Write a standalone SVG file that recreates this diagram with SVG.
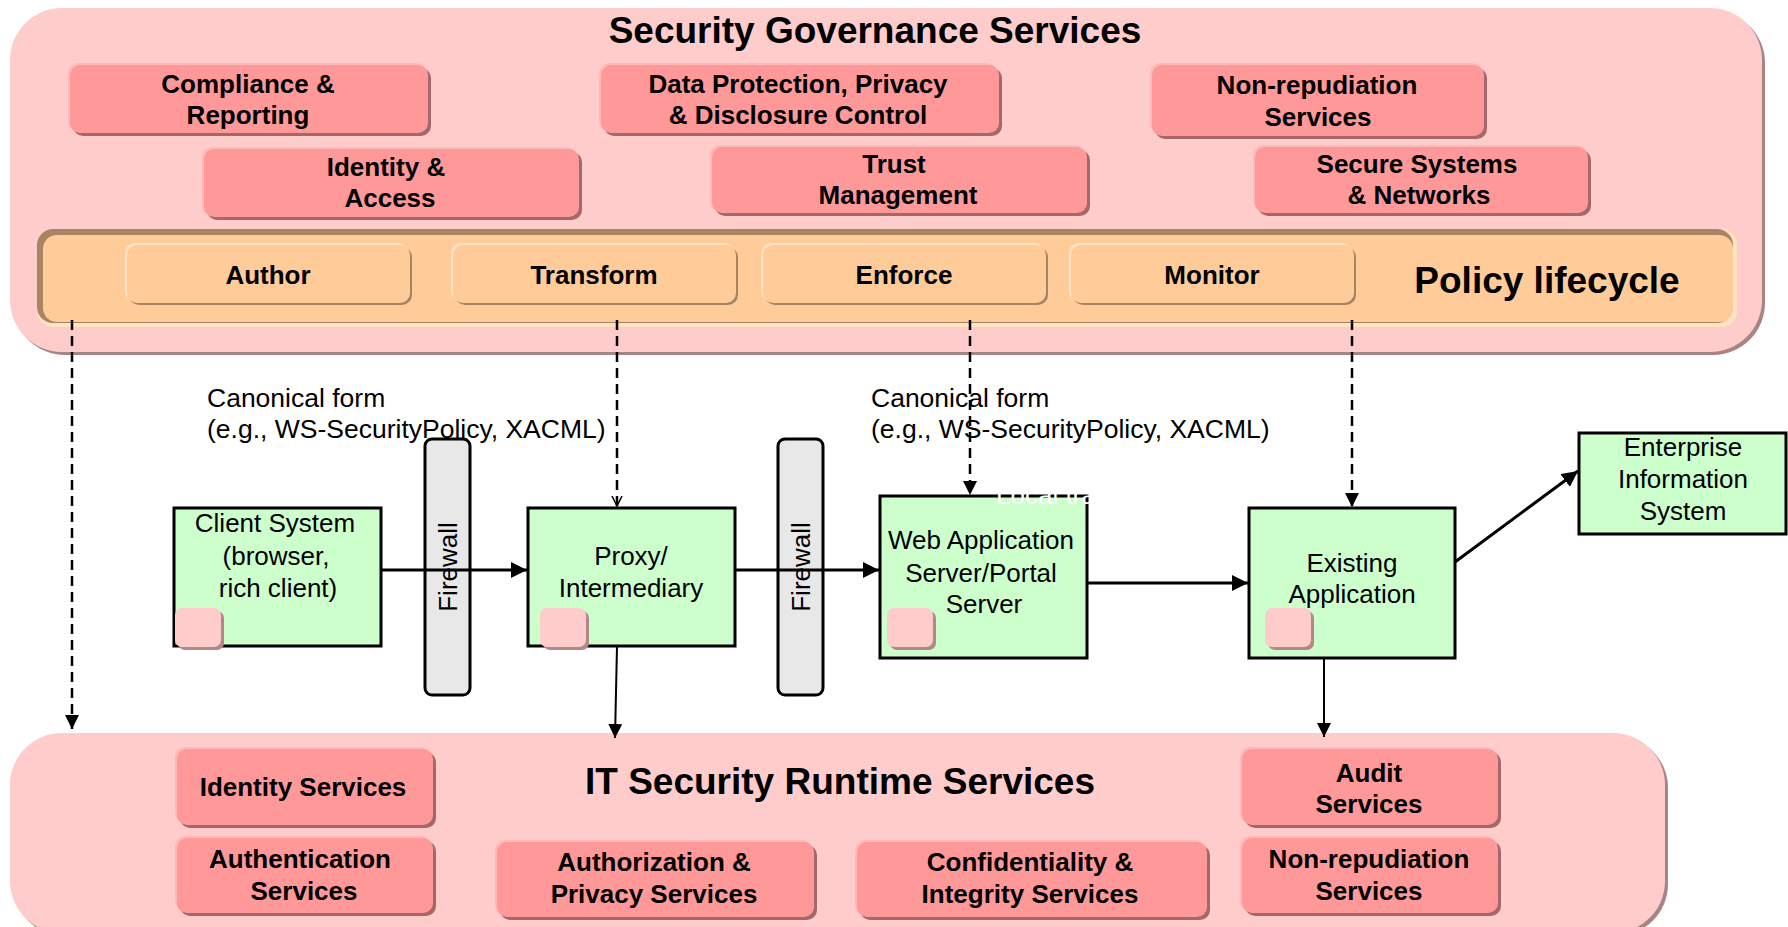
<svg xmlns="http://www.w3.org/2000/svg" width="1788" height="927" viewBox="0 0 1788 927">
<style>
text{font-family:"Liberation Sans",Arial,sans-serif;fill:#000}
.b{font-weight:bold;font-size:26px;text-anchor:middle}
.r{font-size:26px;text-anchor:middle}
.l{font-size:26.5px}
.t{font-weight:bold;font-size:37px;text-anchor:middle}
.outer{fill:#FFCCCC}
.outsh{fill:#A68585}
.svc{fill:#FF9999}
.svcsh{fill:#A46868}
.svchi{fill:#FFB8B8}
.lc{fill:#FFCC99}
.lcsh{fill:#A88462}
.lchi{fill:#FFE2C4}
.green{fill:#CCFFCC;stroke:#000;stroke-width:3}
.fw{fill:#E8E8E8;stroke:#000;stroke-width:3}
.sq{fill:#FFCCCC}
.sqsh{fill:#B08888}
.dash{fill:none;stroke:#000;stroke-width:2.5;stroke-dasharray:10 6}
.solid{fill:none;stroke:#000;stroke-width:3}
.thin{fill:none;stroke:#000;stroke-width:2}
</style>
<defs>
<marker id="ah" markerUnits="userSpaceOnUse" markerWidth="18" markerHeight="16" refX="16" refY="8" orient="auto"><path d="M0,0 L16,8 L0,16 Z" fill="#000"/></marker>
<marker id="ahs" markerUnits="userSpaceOnUse" markerWidth="16" markerHeight="14" refX="14" refY="7" orient="auto"><path d="M0,0 L14,7 L0,14 Z" fill="#000"/></marker>
<marker id="aho" markerUnits="userSpaceOnUse" markerWidth="12" markerHeight="12" refX="10" refY="6" orient="auto"><path d="M0,1 L10,6 L0,11" fill="none" stroke="#000" stroke-width="1.5"/></marker>
</defs>

<g id="security-governance">
<rect class="outsh" x="13" y="11" width="1752" height="344" rx="52"/>
<rect class="outer" x="10" y="8" width="1752" height="344" rx="52"/>
<text class="t" x="875" y="43">Security Governance Services</text>
</g>

<g id="compliance">
<rect class="svchi" x="68" y="63" width="358" height="68" rx="10"/>
<rect class="svcsh" x="73" y="68" width="358" height="68" rx="10"/>
<rect class="svc" x="70" y="65" width="358" height="68" rx="10"/>
<text class="b" x="248" y="93">Compliance &amp;</text>
<text class="b" x="248" y="124">Reporting</text>
</g>
<g id="data-protection">
<rect class="svchi" x="599" y="63" width="398" height="68" rx="10"/>
<rect class="svcsh" x="604" y="68" width="398" height="68" rx="10"/>
<rect class="svc" x="601" y="65" width="398" height="68" rx="10"/>
<text class="b" x="798" y="93">Data Protection, Privacy</text>
<text class="b" x="798" y="124">&amp; Disclosure Control</text>
</g>
<g id="non-repudiation-gov">
<rect class="svchi" x="1150" y="63" width="332" height="71" rx="10"/>
<rect class="svcsh" x="1155" y="68" width="332" height="71" rx="10"/>
<rect class="svc" x="1152" y="65" width="332" height="71" rx="10"/>
<text class="b" x="1317" y="94">Non-repudiation</text>
<text class="b" x="1318" y="126">Services</text>
</g>
<g id="identity-access">
<rect class="svchi" x="202" y="147" width="375" height="68" rx="10"/>
<rect class="svcsh" x="207" y="152" width="375" height="68" rx="10"/>
<rect class="svc" x="204" y="149" width="375" height="68" rx="10"/>
<text class="b" x="386" y="176">Identity &amp;</text>
<text class="b" x="390" y="207">Access</text>
</g>
<g id="trust">
<rect class="svchi" x="710" y="145" width="375" height="66" rx="10"/>
<rect class="svcsh" x="715" y="150" width="375" height="66" rx="10"/>
<rect class="svc" x="712" y="147" width="375" height="66" rx="10"/>
<text class="b" x="894" y="173">Trust</text>
<text class="b" x="898" y="204">Management</text>
</g>
<g id="secure-systems">
<rect class="svchi" x="1253" y="145" width="333" height="66" rx="10"/>
<rect class="svcsh" x="1258" y="150" width="333" height="66" rx="10"/>
<rect class="svc" x="1255" y="147" width="333" height="66" rx="10"/>
<text class="b" x="1417" y="173">Secure Systems</text>
<text class="b" x="1419" y="204">&amp; Networks</text>
</g>

<g id="policy-lifecycle">
<rect class="lchi" x="37" y="229" width="1700" height="98" rx="16"/>
<rect class="lcsh" x="37" y="229" width="1696" height="94" rx="16"/>
<rect class="lc" x="43" y="235" width="1690" height="87" rx="14"/>
<text class="t" x="1547" y="293">Policy lifecycle</text>
</g>
<g id="author">
<rect class="lchi" x="125" y="243" width="283" height="58" rx="10"/>
<rect class="lcsh" x="129" y="247" width="283" height="58" rx="10"/>
<rect class="lc" x="127" y="245" width="283" height="58" rx="10"/>
<text class="b" x="268" y="284">Author</text>
</g>
<g id="transform">
<rect class="lchi" x="451" y="243" width="283" height="58" rx="10"/>
<rect class="lcsh" x="455" y="247" width="283" height="58" rx="10"/>
<rect class="lc" x="453" y="245" width="283" height="58" rx="10"/>
<text class="b" x="594" y="284">Transform</text>
</g>
<g id="enforce">
<rect class="lchi" x="761" y="243" width="283" height="58" rx="10"/>
<rect class="lcsh" x="765" y="247" width="283" height="58" rx="10"/>
<rect class="lc" x="763" y="245" width="283" height="58" rx="10"/>
<text class="b" x="904" y="284">Enforce</text>
</g>
<g id="monitor">
<rect class="lchi" x="1069" y="243" width="283" height="58" rx="10"/>
<rect class="lcsh" x="1073" y="247" width="283" height="58" rx="10"/>
<rect class="lc" x="1071" y="245" width="283" height="58" rx="10"/>
<text class="b" x="1212" y="284">Monitor</text>
</g>

<g id="runtime-services">
<rect class="outsh" x="13" y="736" width="1655" height="200" rx="52"/>
<rect class="outer" x="10" y="733" width="1655" height="200" rx="52"/>
<text class="t" x="840" y="794">IT Security Runtime Services</text>
</g>
<g id="identity-services">
<rect class="svchi" x="175" y="747" width="256" height="76" rx="10"/>
<rect class="svcsh" x="180" y="752" width="256" height="76" rx="10"/>
<rect class="svc" x="177" y="749" width="256" height="76" rx="10"/>
<text class="b" x="303" y="796">Identity Services</text>
</g>
<g id="authentication-services">
<rect class="svchi" x="175" y="836" width="256" height="75" rx="10"/>
<rect class="svcsh" x="180" y="841" width="256" height="75" rx="10"/>
<rect class="svc" x="177" y="838" width="256" height="75" rx="10"/>
<text class="b" x="300" y="868">Authentication</text>
<text class="b" x="304" y="900">Services</text>
</g>
<g id="authorization-services">
<rect class="svchi" x="495" y="840" width="317" height="75" rx="10"/>
<rect class="svcsh" x="500" y="845" width="317" height="75" rx="10"/>
<rect class="svc" x="497" y="842" width="317" height="75" rx="10"/>
<text class="b" x="654" y="871">Authorization &amp;</text>
<text class="b" x="654" y="903">Privacy Services</text>
</g>
<g id="confidentiality-services">
<rect class="svchi" x="855" y="840" width="350" height="75" rx="10"/>
<rect class="svcsh" x="860" y="845" width="350" height="75" rx="10"/>
<rect class="svc" x="857" y="842" width="350" height="75" rx="10"/>
<text class="b" x="1030" y="871">Confidentiality &amp;</text>
<text class="b" x="1030" y="903">Integrity Services</text>
</g>
<g id="audit-services">
<rect class="svchi" x="1240" y="747" width="256" height="76" rx="10"/>
<rect class="svcsh" x="1245" y="752" width="256" height="76" rx="10"/>
<rect class="svc" x="1242" y="749" width="256" height="76" rx="10"/>
<text class="b" x="1369" y="782">Audit</text>
<text class="b" x="1369" y="813">Services</text>
</g>
<g id="non-repudiation-runtime">
<rect class="svchi" x="1240" y="836" width="256" height="75" rx="10"/>
<rect class="svcsh" x="1245" y="841" width="256" height="75" rx="10"/>
<rect class="svc" x="1242" y="838" width="256" height="75" rx="10"/>
<text class="b" x="1369" y="868">Non-repudiation</text>
<text class="b" x="1369" y="900">Services</text>
</g>

<g id="labels">
<text class="l" x="207" y="407">Canonical form</text>
<text class="l" x="207" y="438">(e.g., WS-SecurityPolicy, XACML)</text>
<text class="l" x="871" y="407">Canonical form</text>
<text class="l" x="871" y="438">(e.g., WS-SecurityPolicy, XACML)</text>
</g>

<g id="firewall-1">
<rect class="fw" x="425" y="439" width="45" height="256" rx="7"/>
<text class="r" transform="translate(457,567) rotate(-90)">Firewall</text>
</g>
<g id="firewall-2">
<rect class="fw" x="778" y="439" width="45" height="256" rx="7"/>
<text class="r" transform="translate(810,567) rotate(-90)">Firewall</text>
</g>

<g id="client-system">
<rect class="green" x="174" y="508" width="207" height="138"/>
<text class="r" x="275" y="532">Client System</text>
<text class="r" x="276" y="565">(browser,</text>
<text class="r" x="278" y="597">rich client)</text>
<rect class="sqsh" x="178" y="611" width="46" height="39" rx="7"/>
<rect class="sq" x="175" y="608" width="46" height="39" rx="7"/>
</g>
<g id="proxy">
<rect class="green" x="528" y="508" width="207" height="138"/>
<text class="r" x="631" y="565">Proxy/</text>
<text class="r" x="631" y="597">Intermediary</text>
<rect class="sqsh" x="543" y="611" width="46" height="39" rx="7"/>
<rect class="sq" x="540" y="608" width="46" height="39" rx="7"/>
</g>
<g id="web-app-server">
<rect class="green" x="880" y="496" width="207" height="162"/>
<text x="996" y="504" style="font-size:26px;fill:#fff">Local tra</text>
<text class="r" x="981" y="549">Web Application</text>
<text class="r" x="981" y="582">Server/Portal</text>
<text class="r" x="984" y="613">Server</text>
<rect class="sqsh" x="890" y="611" width="46" height="39" rx="7"/>
<rect class="sq" x="887" y="608" width="46" height="39" rx="7"/>
</g>
<g id="existing-app">
<rect class="green" x="1249" y="508" width="206" height="150"/>
<text class="r" x="1352" y="572">Existing</text>
<text class="r" x="1352" y="603">Application</text>
<rect class="sqsh" x="1268" y="611" width="46" height="39" rx="7"/>
<rect class="sq" x="1265" y="608" width="46" height="39" rx="7"/>
</g>
<g id="enterprise-info">
<rect class="green" x="1579" y="433" width="207" height="101"/>
<text class="r" x="1683" y="456">Enterprise</text>
<text class="r" x="1683" y="488">Information</text>
<text class="r" x="1683" y="520">System</text>
</g>

<g id="connectors">
<line class="dash" x1="72" y1="320" x2="72" y2="729" marker-end="url(#ahs)"/>
<line class="dash" x1="617" y1="320" x2="617" y2="506" marker-end="url(#aho)"/>
<line class="dash" x1="970" y1="320" x2="970" y2="495" marker-end="url(#ahs)"/>
<line class="dash" x1="1352" y1="320" x2="1352" y2="507" marker-end="url(#ahs)"/>
<line class="solid" x1="381" y1="570" x2="527" y2="570" marker-end="url(#ah)"/>
<line class="solid" x1="735" y1="570" x2="879" y2="570" marker-end="url(#ah)"/>
<line class="solid" x1="1087" y1="583" x2="1248" y2="583" marker-end="url(#ah)"/>
<line class="solid" x1="1455" y1="562" x2="1578" y2="471" marker-end="url(#ah)"/>
<line class="thin" x1="617" y1="646" x2="615" y2="738" marker-end="url(#ahs)"/>
<line class="thin" x1="1324" y1="658" x2="1324" y2="737" marker-end="url(#ahs)"/>
</g>
</svg>
